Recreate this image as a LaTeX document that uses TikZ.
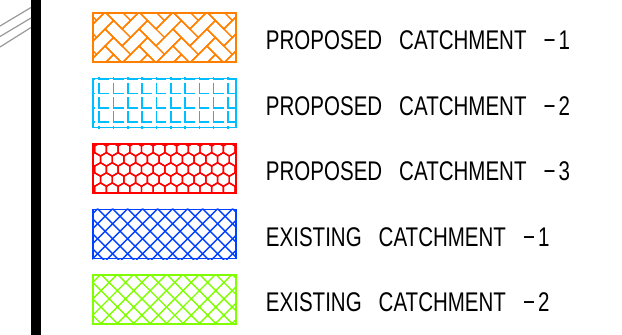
\documentclass[tikz,border=0pt]{standalone}
\usepackage{fontspec}
\newfontfamily\legendfont{Liberation Sans}[FakeStretch=0.76]
\usetikzlibrary{positioning}
\definecolor{hatchorange}{RGB}{255,128,0}
\definecolor{hatchcyan}{RGB}{0,190,255}
\definecolor{hatchred}{RGB}{255,0,0}
\definecolor{hatchblue}{RGB}{0,64,255}
\definecolor{hatchgreen}{RGB}{128,255,0}
\tikzset{
  swatch/.style={draw=#1, line width=1.5pt, minimum width=143pt, minimum height=49pt,
                 inner sep=0pt},
  hatch/.style={draw=#1, line width=1.4pt},
  legend/.style={font=\legendfont\fontsize{27}{27}\selectfont, inner sep=0pt, yshift=-3pt},
  leader/.style={draw=black!40, line width=1.2pt}
}
\newcommand{\gap}{\hspace{17pt}}

\begin{document}
\begin{tikzpicture}[x=1pt, y=-1pt]
  \useasboundingbox (0,0) rectangle (622,335);
  % sheet border and leader lines on the left
  \fill (31,0) rectangle (41,335);
  \draw[leader] (0,26) -- (31,7.5);
  \draw[leader] (0,36.5) -- (31,18);
  \draw[leader] (0,47) -- (31,27.5);
  % swatches
  \node[swatch=hatchorange] (pc1) at (164.5,37.5) {};
  \node[swatch=hatchcyan, below=15pt of pc1] (pc2) {};
  \node[swatch=hatchred, below=15pt of pc2] (pc3) {};
  \node[swatch=hatchblue, below=15pt of pc3] (ec1) {};
  \node[swatch=hatchgreen, below=15pt of ec1] (ec2) {};
  % labels
  \node[legend, right=29pt of pc1] (pc1lbl) {PROPOSED\gap CATCHMENT\gap −\kern3pt1};
  \node[legend, right=29pt of pc2] (pc2lbl) {PROPOSED\gap CATCHMENT\gap −\kern3pt2};
  \node[legend, right=29pt of pc3] (pc3lbl) {PROPOSED\gap CATCHMENT\gap −\kern3pt3};
  \node[legend, right=29pt of ec1] (ec1lbl) {EXISTING\gap CATCHMENT\gap −\kern3pt1};
  \node[legend, right=29pt of ec2] (ec2lbl) {EXISTING\gap CATCHMENT\gap −\kern3pt2};
  % herringbone fill
  \begin{scope}
    \clip (pc1.south west) rectangle (pc1.north east);
    \begin{scope}[shift={(pc1.center)}, rotate=45, x=12pt, y=12pt]
      \foreach \i in {-12,...,12}
        \foreach \j in {-6,...,6}
          \draw[hatch=hatchorange] ({\i+2*\j},{\i-2*\j}) rectangle ++(2,1)
                                   ({\i+2*\j-1},{\i-2*\j}) rectangle ++(1,2);
    \end{scope}
  \end{scope}
  % L-shaped brick fill
  \begin{scope}
    \clip (pc2.south west) rectangle (pc2.north east);
    \begin{scope}[shift={(pc2.north west)}]
      \foreach \r in {0,...,4}
        \foreach \k in {-1,...,10}
          \draw[hatch=hatchcyan, line width=1.6pt] ({7+14.3*\k},{1.5+14.3*\r-10.7})
                                 -- ({7+14.3*\k},{1.5+14.3*\r}) -- ++(10,0);
    \end{scope}
  \end{scope}
  % honeycomb fill
  \begin{scope}
    \clip (pc3.south west) rectangle (pc3.north east);
    \begin{scope}[shift={(pc3.north west)}]
      \foreach \r in {-1,...,5}
        \foreach \k in {-1,...,13} {
          \pgfmathsetmacro\cx{8.3+11.7*\k+mod(\r+2,2)*5.85}
          \pgfmathsetmacro\cy{6+10.1*\r}
          \draw[hatch=hatchred] (\cx,\cy) +(30:6.75) -- +(90:6.75) -- +(150:6.75)
               -- +(210:6.75) -- +(270:6.75) -- +(330:6.75) -- cycle;
        }
    \end{scope}
  \end{scope}
  % crosshatch fills
  \begin{scope}
    \clip (ec1.south west) rectangle (ec1.north east);
    \begin{scope}[shift={(ec1.north west)}]
      \foreach \k in {-5,...,13}
        \draw[hatch=hatchblue] ({5.3+15*\k},0) -- ++(70,70)
                               ({5.3+15*\k},0) -- ++(-70,70);
    \end{scope}
  \end{scope}
  \begin{scope}
    \clip (ec2.south west) rectangle (ec2.north east);
    \begin{scope}[shift={(ec2.north west)}]
      \foreach \k in {-5,...,13}
        \draw[hatch=hatchgreen] ({8.7+16.4*\k},0) -- ++(70,70)
                                ({8.7+16.4*\k},0) -- ++(-70,70);
    \end{scope}
  \end{scope}
\end{tikzpicture}
\end{document}
